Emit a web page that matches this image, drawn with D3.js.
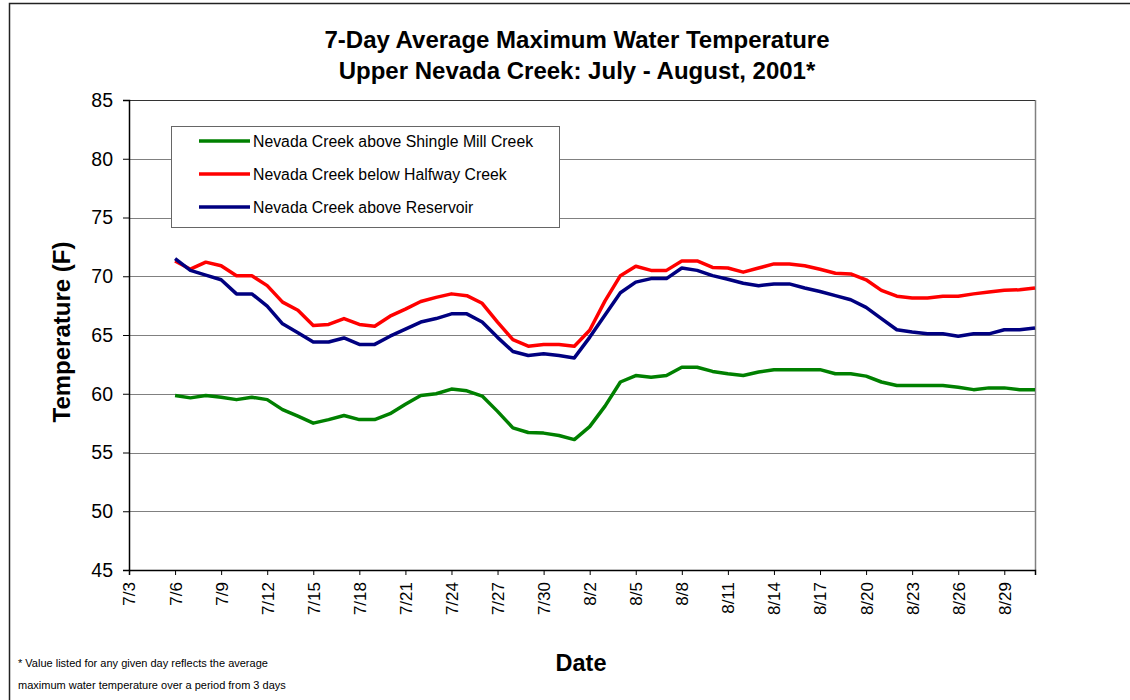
<!DOCTYPE html>
<html>
<head>
<meta charset="utf-8">
<script src="https://cdn.jsdelivr.net/npm/d3@7"></script>
<style>
  body { margin: 0; background: #fff; }
  svg { display: block; font-family: "Liberation Sans", Arial, sans-serif; }
</style>
</head>
<body>
<div id="chart"></div>
<script>
// days with readings (7-day average maximum, deg F)
const dates = [
  "7/6", "7/7", "7/8", "7/9", "7/10", "7/11", "7/12", "7/13", "7/14", "7/15",
  "7/16", "7/17", "7/18", "7/19", "7/20", "7/21", "7/22", "7/23", "7/24", "7/25",
  "7/26", "7/27", "7/28", "7/29", "7/30", "7/31", "8/1", "8/2", "8/3", "8/4",
  "8/5", "8/6", "8/7", "8/8", "8/9", "8/10", "8/11", "8/12", "8/13", "8/14",
  "8/15", "8/16", "8/17", "8/18", "8/19", "8/20", "8/21", "8/22", "8/23", "8/24",
  "8/25", "8/26", "8/27", "8/28", "8/29", "8/30", "8/31"
];

const shingleMill = [
  59.85, 59.65, 59.85, 59.7, 59.5, 59.7, 59.5, 58.65, 58.1, 57.5,
  57.8, 58.15, 57.8, 57.8, 58.3, 59.1, 59.85, 60.0, 60.4, 60.25,
  59.8, 58.5, 57.1, 56.7, 56.65, 56.45, 56.1, 57.2, 58.95, 61.0,
  61.55, 61.4, 61.55, 62.25, 62.25, 61.9, 61.7, 61.55, 61.85, 62.05,
  62.05, 62.05, 62.05, 61.7, 61.7, 61.5, 61.0, 60.7, 60.7, 60.7,
  60.7, 60.55, 60.35, 60.5, 60.5, 60.35, 60.35
];

const halfway = [
  71.3, 70.6, 71.2, 70.9, 70.05, 70.05, 69.2, 67.8, 67.1, 65.8,
  65.9, 66.4, 65.9, 65.75, 66.6, 67.2, 67.85, 68.2, 68.5, 68.35,
  67.7, 66.1, 64.6, 64.05, 64.2, 64.2, 64.05, 65.4, 67.9, 70.05,
  70.85, 70.5, 70.5, 71.3, 71.3, 70.75, 70.7, 70.35, 70.7, 71.05,
  71.05, 70.9, 70.6, 70.25, 70.2, 69.7, 68.8, 68.3, 68.15, 68.15,
  68.3, 68.3, 68.5, 68.65, 68.8, 68.85, 69.0
];

const reservoir = [
  71.5, 70.5, 70.1, 69.7, 68.5, 68.5, 67.45, 65.95, 65.2, 64.4,
  64.4, 64.75, 64.2, 64.2, 64.9, 65.5, 66.1, 66.4, 66.8, 66.8,
  66.1, 64.8, 63.6, 63.25, 63.4, 63.25, 63.05, 64.8, 66.7, 68.6,
  69.5, 69.8, 69.8, 70.7, 70.5, 70.05, 69.75, 69.4, 69.2, 69.35,
  69.35, 69.0, 68.7, 68.35, 68.0, 67.35, 66.4, 65.45, 65.25, 65.1,
  65.1, 64.9, 65.1, 65.1, 65.45, 65.45, 65.6
];

const seriesNames = [
  "Nevada Creek above Shingle Mill Creek",
  "Nevada Creek below Halfway Creek",
  "Nevada Creek above Reservoir"
];
const seriesColors = ["#008000", "#ff0000", "#000080"];

const xTickLabels = [
  "7/3", "7/6", "7/9", "7/12", "7/15", "7/18", "7/21", "7/24", "7/27", "7/30",
  "8/2", "8/5", "8/8", "8/11", "8/14", "8/17", "8/20", "8/23", "8/26", "8/29"
];
const yTicks = [45, 50, 55, 60, 65, 70, 75, 80, 85];

const W = 1130, H = 700;
const plot = { left: 129, right: 1035, top: 100, bottom: 570 };

const parseDay = (s) => d3.timeParse("%m/%d/%Y")(s + "/2001");

const svg = d3.select("#chart").append("svg")
  .attr("width", W)
  .attr("height", H);

// outer chart frame (runs off the right and bottom of the picture)
svg.append("rect")
  .attr("x", 9.5).attr("y", 3.5)
  .attr("width", 1200).attr("height", 800)
  .attr("fill", "#fff")
  .attr("stroke", "#222")
  .attr("stroke-width", 1.5);

const x = d3.scaleTime()
  .domain([parseDay("7/3"), parseDay("8/31")])
  .range([plot.left, plot.right]);

const y = d3.scaleLinear()
  .domain([45, 85])
  .range([plot.bottom, plot.top]);

// gridlines
svg.append("g")
  .selectAll("line")
  .data(yTicks)
  .join("line")
  .attr("x1", plot.left).attr("x2", plot.right)
  .attr("y1", (d) => Math.round(y(d)) + 0.5)
  .attr("y2", (d) => Math.round(y(d)) + 0.5)
  .attr("stroke", "#808080")
  .attr("stroke-width", 1.2);

// right border of plot area
svg.append("line")
  .attr("x1", plot.right + 0.5).attr("x2", plot.right + 0.5)
  .attr("y1", plot.top).attr("y2", plot.bottom)
  .attr("stroke", "#808080")
  .attr("stroke-width", 1.5);

// top border
svg.append("line")
  .attr("x1", plot.left).attr("x2", plot.right)
  .attr("y1", plot.top + 0.5).attr("y2", plot.top + 0.5)
  .attr("stroke", "#333")
  .attr("stroke-width", 1.2);

// y axis
const yAxis = svg.append("g")
  .attr("transform", `translate(${plot.left},0)`)
  .call(d3.axisLeft(y).tickValues(yTicks).tickSize(6).tickPadding(10));
yAxis.select(".domain").attr("stroke", "#000").attr("stroke-width", 1.5);
yAxis.selectAll(".tick line").attr("stroke", "#000");
yAxis.selectAll("text")
  .attr("font-size", 19.5)
  .attr("font-family", "Liberation Sans, Arial, sans-serif")
  .attr("fill", "#000");

// x axis
const xAxis = svg.append("g")
  .attr("transform", `translate(0,${plot.bottom})`)
  .call(
    d3.axisBottom(x)
      .tickValues(xTickLabels.map(parseDay))
      .tickFormat(d3.timeFormat("%-m/%-d"))
      .tickSize(5)
  );
xAxis.select(".domain").attr("stroke", "#000").attr("stroke-width", 1.5);
xAxis.selectAll(".tick line").attr("stroke", "#000");
xAxis.selectAll("text")
  .attr("font-size", 17)
  .attr("font-family", "Liberation Sans, Arial, sans-serif")
  .attr("fill", "#000")
  .attr("text-anchor", "end")
  .attr("dy", "0.35em")
  .attr("transform", "rotate(-90)")
  .attr("x", -12)
  .attr("y", 0);

// series lines
const seriesData = [shingleMill, halfway, reservoir];
const line = d3.line()
  .x((d, i) => x(parseDay(dates[i])))
  .y((d) => y(d));

svg.append("g")
  .selectAll("path")
  .data(seriesData)
  .join("path")
  .attr("d", line)
  .attr("fill", "none")
  .attr("stroke", (d, i) => seriesColors[i])
  .attr("stroke-width", 3.5)
  .attr("stroke-linejoin", "round");

// legend
const legend = svg.append("g");
legend.append("rect")
  .attr("x", 171.5).attr("y", 126.5)
  .attr("width", 388).attr("height", 101)
  .attr("fill", "#fff")
  .attr("stroke", "#666")
  .attr("stroke-width", 1);

const legendRows = legend.selectAll("g.row")
  .data(seriesNames)
  .join("g")
  .attr("class", "row")
  .attr("transform", (d, i) => `translate(0,${141 + i * 33})`);

legendRows.append("line")
  .attr("x1", 199).attr("x2", 250)
  .attr("stroke", (d, i) => seriesColors[i])
  .attr("stroke-width", 3.5);

legendRows.append("text")
  .attr("x", 253)
  .attr("dy", "0.35em")
  .attr("font-size", 15.8)
  .attr("fill", "#000")
  .text((d) => d);

// titles
svg.append("text")
  .attr("x", 577).attr("y", 48)
  .attr("text-anchor", "middle")
  .attr("font-size", 24)
  .attr("font-weight", "bold")
  .text("7-Day Average Maximum Water Temperature");
svg.append("text")
  .attr("x", 577).attr("y", 79)
  .attr("text-anchor", "middle")
  .attr("font-size", 24)
  .attr("font-weight", "bold")
  .text("Upper Nevada Creek: July - August, 2001*");

svg.append("text")
  .attr("transform", "translate(70,332) rotate(-90)")
  .attr("text-anchor", "middle")
  .attr("font-size", 24)
  .attr("font-weight", "bold")
  .text("Temperature (F)");

svg.append("text")
  .attr("x", 581).attr("y", 671)
  .attr("text-anchor", "middle")
  .attr("font-size", 23.5)
  .attr("font-weight", "bold")
  .text("Date");

// footnote
svg.append("text")
  .attr("x", 18).attr("y", 667)
  .attr("font-size", 11)
  .text("* Value listed for any given day reflects the average");
svg.append("text")
  .attr("x", 18).attr("y", 689)
  .attr("font-size", 11)
  .text("maximum water temperature over a period from 3 days");
</script>
</body>
</html>
